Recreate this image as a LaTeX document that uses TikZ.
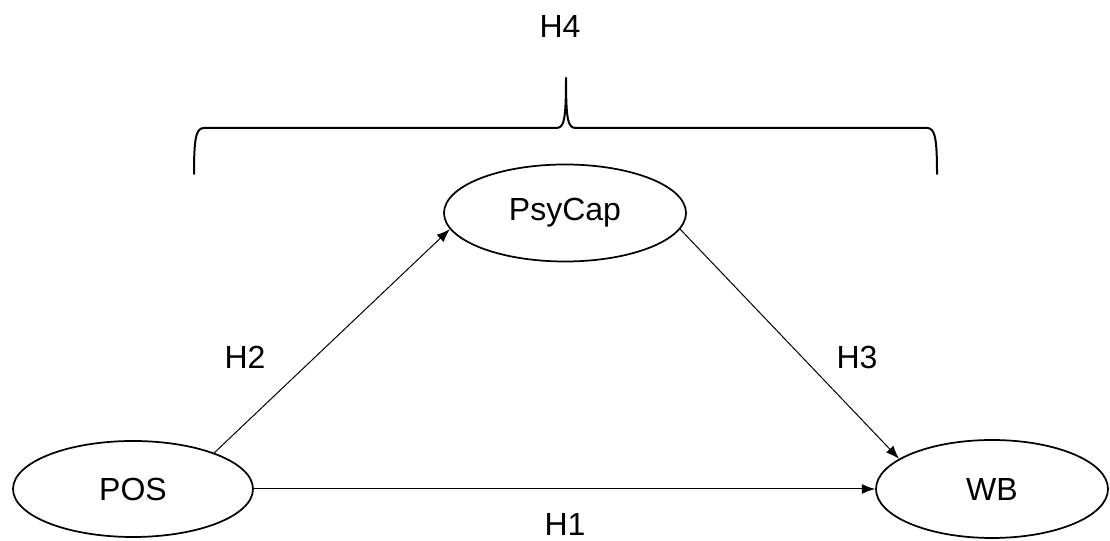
\documentclass[tikz,border=0pt]{standalone}
\usepackage{fontspec}
\setmainfont{Liberation Sans}
\usepackage{tikz}
\usetikzlibrary{
  arrows.meta,
  shapes.geometric,
  positioning
}
\tikzset{
  varnode/.style={
    draw, ellipse, line width=1.3pt, inner sep=0pt,
    minimum width=180pt, minimum height=72pt,
    font=\fontsize{24}{28}\selectfont
  },
  hyparrow/.style={-{Latex[length=10pt, width=7.5pt]}, line width=0.75pt},
  hyplabel/.style={font=\fontsize{24}{28}\selectfont, inner sep=0pt},
  bracepath/.style={line width=1.5pt, line cap=round, line join=round}
}

\begin{document}
\begin{tikzpicture}[x=0.75pt, y=0.75pt]
  \useasboundingbox (0,0) rectangle (1110,541);
  % constructs
  \node[varnode] (pos) at (133,52) {POS};
  \node[varnode, minimum width=181.5pt, minimum height=72.75pt] (psycap) at (565,328) {PsyCap};
  \node[varnode, minimum width=174pt, minimum height=73.5pt] (wb) at (992,52) {WB};
  % paths
  \draw[hyparrow] (pos.24) -- (psycap.188);
  \draw[hyparrow] (psycap.-8) -- (wb.162);
  \draw[hyparrow] (pos.east) -- (wb.west);
  % hypotheses
  \node[hyplabel] (h2) at (245,184) {H2};
  \node[hyplabel] (h3) at (857,184) {H3};
  \node[hyplabel] (h1) at (565,17) {H1};
  \node[hyplabel] (h4) at (560,514) {H4};
  % brace over the mediation
  \coordinate (bl) at (194,367);
  \coordinate (br) at (937,367);
  \coordinate (tip) at (566,463);
  \draw[bracepath] (bl) .. controls (194,403) and (196,413) .. (204,413)
    -- (556,413) .. controls (564,413) and (566,420) .. (tip)
    .. controls (566,420) and (568,413) .. (576,413)
    -- (927,413) .. controls (935,413) and (937,403) .. (br);
\end{tikzpicture}
\end{document}
